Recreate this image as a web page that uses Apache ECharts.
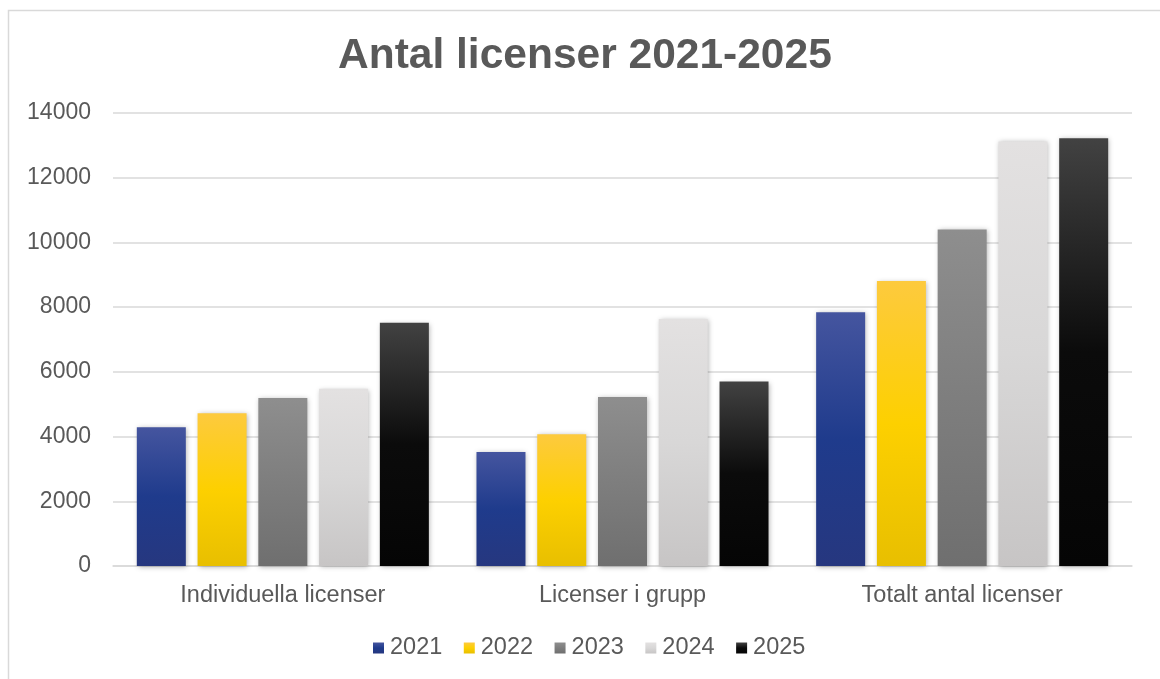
<!DOCTYPE html>
<html>
<head>
<meta charset="utf-8">
<script src="https://cdn.jsdelivr.net/npm/echarts@6/dist/echarts.min.js"></script>
<style>
html,body{margin:0;padding:0;background:#fff;}
#chart{width:1160px;height:679px;}
</style>
</head>
<body>
<div id="chart"></div>
<script>
const categories = ['Individuella licenser', 'Licenser i grupp', 'Totalt antal licenser'];
const years = ['2021', '2022', '2023', '2024', '2025'];
const v2021 = [4290, 3520, 7840];
const v2022 = [4720, 4070, 8810];
const v2023 = [5190, 5220, 10400];
const v2024 = [5480, 7630, 13120];
const v2025 = [7520, 5700, 13220];
const yTicks = [0, 2000, 4000, 6000, 8000, 10000, 12000, 14000];

const values = [v2021, v2022, v2023, v2024, v2025];
const gradients = [
  ['#45559f', '#1f3b8c', '#26377f'],
  ['#fdca3e', '#fdd000', '#e8bf00'],
  ['#8e8e8e', '#7e7e7e', '#6f6f6f'],
  ['#e3e1e1', '#d8d7d7', '#c7c5c5'],
  ['#424242', '#0b0b0b', '#050505']
];
function grad(c) {
  return new echarts.graphic.LinearGradient(0, 0, 0, 1, [
    {offset: 0, color: c[0]}, {offset: 0.5, color: c[1]}, {offset: 1, color: c[2]}
  ]);
}
const chart = echarts.init(document.getElementById('chart'), null, {renderer: 'canvas'});
const txt = '#595959';
const ff = 'Liberation Sans, Arial, sans-serif';
chart.setOption({
  animation: false,
  backgroundColor: '#ffffff',
  graphic: [{
    type: 'rect', silent: true, z: -1,
    shape: {x: 8.5, y: 10.5, width: 1200, height: 700},
    style: {fill: 'none', stroke: '#d9d9d9', lineWidth: 1.5}
  }],
  title: {
    text: 'Antal licenser 2021-2025',
    left: 333, top: 30,
    textStyle: {fontFamily: ff, fontSize: 42.5, fontWeight: 'bold', color: txt}
  },
  legend: {
    data: years,
    bottom: 19, left: 373, padding: 0,
    itemWidth: 11, itemHeight: 11, itemGap: 21.5,
    icon: 'rect',
    textStyle: {fontFamily: ff, fontSize: 23.5, color: txt, padding: [0, 0, 0, 1]}
  },
  grid: {left: 113, right: 28, top: 113, bottom: 113, containLabel: false},
  xAxis: {
    type: 'category',
    data: categories,
    axisTick: {show: false},
    axisLine: {lineStyle: {color: '#d9d9d9', width: 1.5}},
    axisLabel: {fontFamily: ff, fontSize: 23.5, color: txt, margin: 18}
  },
  yAxis: {
    type: 'value',
    min: yTicks[0], max: yTicks[yTicks.length - 1], interval: 2000,
    axisLine: {show: false}, axisTick: {show: false},
    splitLine: {lineStyle: {color: '#d9d9d9', width: 1.5}},
    axisLabel: {fontFamily: ff, fontSize: 23, color: txt, margin: 22, formatter: v => String(v)}
  },
  series: years.map((y, i) => ({
    name: y,
    type: 'bar',
    data: values[i],
    barWidth: 49,
    barGap: '24%',
    itemStyle: {
      color: grad(gradients[i]),
      shadowBlur: 5, shadowColor: 'rgba(0,0,0,0.3)', shadowOffsetX: 1, shadowOffsetY: 1
    }
  }))
});
</script>
</body>
</html>
